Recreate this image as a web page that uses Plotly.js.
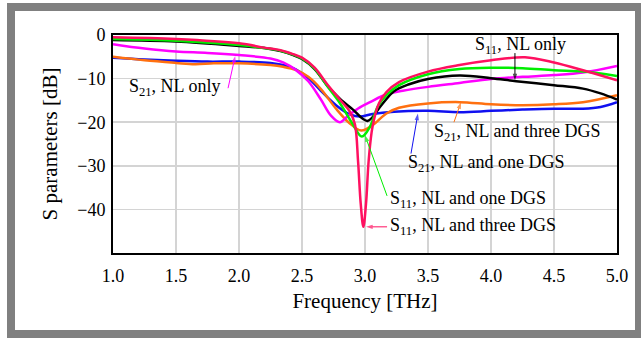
<!DOCTYPE html>
<html>
<head>
<meta charset="utf-8">
<script src="https://cdn.plot.ly/plotly-3.0.1.min.js"></script>
<style>
  html, body { margin: 0; padding: 0; background: #ffffff; width: 641px; height: 338px; overflow: hidden; }
  #frame { position: absolute; left: 7px; top: 3px; width: 636px; height: 335px; box-sizing: border-box; border: 8px solid #808080; background: #ffffff; }
  #chart { position: absolute; left: 0; top: 0; width: 641px; height: 338px; }
</style>
</head>
<body>
<div id="frame"></div>
<div id="chart"></div>
<script>
// S11, NL only (black)
const s11NlX = [1.0, 1.5, 2.0, 2.2, 2.33, 2.43, 2.5, 2.6, 2.7, 2.8, 2.9, 3.02, 3.13, 3.23, 3.35, 3.5, 3.75, 4.0, 4.2, 4.5, 4.73, 4.87, 5.0];
const s11NlY = [-1.15, -1.5, -2.5, -3.0, -3.7, -4.6, -5.5, -7.8, -11.6, -14.6, -17.0, -19.7, -16.1, -12.9, -11.3, -10.1, -9.3, -9.9, -10.6, -11.5, -12.3, -13.4, -14.8];
// S21, NL only (magenta)
const s21NlX = [1.0, 1.25, 1.5, 1.75, 2.0, 2.25, 2.35, 2.45, 2.55, 2.65, 2.73, 2.8, 2.87, 2.96, 3.04, 3.17, 3.3, 3.5, 3.75, 4.0, 4.25, 4.5, 4.73, 5.0];
const s21NlY = [-2.1, -3.1, -3.8, -4.1, -4.6, -5.4, -6.3, -8.0, -10.6, -14.8, -18.5, -20.0, -18.4, -16.6, -15.4, -13.6, -12.8, -11.9, -11.0, -10.1, -9.6, -9.2, -8.6, -7.1];
// S11, NL and one DGS (green)
const s11OneX = [1.0, 1.5, 2.0, 2.2, 2.33, 2.43, 2.5, 2.6, 2.7, 2.8, 2.9, 2.975, 3.04, 3.1, 3.17, 3.27, 3.5, 3.75, 4.0, 4.25, 4.5, 4.73, 5.0];
const s11OneY = [-0.9, -1.3, -2.3, -3.0, -3.6, -4.5, -5.4, -7.7, -11.7, -15.6, -20.3, -23.3, -21.0, -16.5, -13.8, -11.5, -9.0, -7.8, -7.5, -7.6, -8.1, -8.4, -9.4];
// S21, NL and one DGS (blue)
const s21OneX = [1.0, 1.25, 1.5, 1.75, 2.0, 2.25, 2.35, 2.45, 2.55, 2.65, 2.77, 2.88, 2.96, 3.06, 3.23, 3.5, 3.75, 4.0, 4.25, 4.5, 4.73, 4.87, 5.0];
const s21OneY = [-5.2, -5.6, -5.9, -6.1, -6.1, -6.4, -6.9, -7.9, -9.9, -12.8, -16.1, -18.2, -18.7, -18.1, -17.6, -17.4, -17.7, -17.4, -17.1, -16.9, -16.9, -16.5, -15.4];
// S11, NL and three DGS (red)
const s11ThreeX = [1.0, 1.5, 2.0, 2.2, 2.33, 2.43, 2.5, 2.6, 2.7, 2.8, 2.88, 2.92, 2.945, 2.966, 2.987, 3.008, 3.03, 3.06, 3.11, 3.17, 3.27, 3.5, 3.75, 4.0, 4.27, 4.5, 4.73, 5.0];
const s11ThreeY = [-0.5, -0.9, -1.9, -2.9, -3.5, -4.4, -5.2, -7.5, -11.3, -14.8, -17.6, -20.5, -29.0, -38.7, -44.0, -38.7, -28.5, -21.0, -15.7, -13.1, -10.8, -8.4, -6.9, -5.8, -5.1, -6.3, -8.1, -10.4];
// S21, NL and three DGS (orange)
const s21ThreeX = [1.0, 1.25, 1.5, 1.65, 1.8, 2.0, 2.25, 2.35, 2.45, 2.55, 2.65, 2.77, 2.88, 2.97, 3.06, 3.17, 3.27, 3.5, 3.75, 4.0, 4.25, 4.5, 4.73, 5.0];
const s21ThreeY = [-5.0, -5.8, -6.4, -6.7, -6.5, -6.5, -6.9, -7.3, -8.0, -9.6, -12.4, -16.9, -20.3, -21.9, -20.7, -18.0, -16.7, -15.7, -15.4, -15.9, -16.1, -15.9, -15.4, -13.8];

const xTicks = [1.0, 1.5, 2.0, 2.5, 3.0, 3.5, 4.0, 4.5, 5.0];
const xTickText = ["1.0", "1.5", "2.0", "2.5", "3.0", "3.5", "4.0", "4.5", "5.0"];
const yTicks = [0, -10, -20, -30, -40];

// curve labels and their pointer arrows
const labelText = ["S<sub>21</sub>, NL only", "S<sub>11</sub>, NL only", "S<sub>21</sub>, NL and three DGS", "S<sub>21</sub>, NL and one DGS", "S<sub>11</sub>, NL and one DGS", "S<sub>11</sub>, NL and three DGS"];
const labelX = [1.111, 3.857, 3.532, 3.325, 3.183, 3.183];
const labelY = [-12.0, -2.3, -22.35, -29.5, -37.8, -44.0];
const tailX = [1.913, 4.19, 3.706, 3.365, 3.175, 3.175];
const tailY = [-12.2, -4.15, -20.0, -27.2, -36.9, -44.0];
const headX = [1.97, 4.19, 3.762, 3.42, 3.0, 3.008];
const headY = [-4.8, -10.4, -15.4, -18.0, -23.0, -44.0];
const arrowColors = ["#ff00ff", "#000000", "#ff7010", "#1010f0", "#00ee00", "#ff1060"];

const serif = "Liberation Serif, Times New Roman, serif";

function line(x, y, color, name) {
  return { x: x, y: y, type: "scatter", mode: "lines", name: name,
    line: { color: color, width: 2.5, shape: "spline", smoothing: 1.0 }, hoverinfo: "skip" };
}

const traces = [
  line(s21OneX, s21OneY, "#1010f0", "S21, NL and one DGS"),
  line(s21ThreeX, s21ThreeY, "#ff7010", "S21, NL and three DGS"),
  line(s21NlX, s21NlY, "#ff00ff", "S21, NL only"),
  line(s11NlX, s11NlY, "#000000", "S11, NL only"),
  line(s11OneX, s11OneY, "#00ee00", "S11, NL and one DGS"),
  line(s11ThreeX, s11ThreeY, "#ff1060", "S11, NL and three DGS")
];

for (let i = 0; i < labelText.length; i++) {
  traces.push({
    x: [tailX[i], headX[i]], y: [tailY[i], headY[i]], type: "scatter", mode: "lines+markers",
    line: { color: arrowColors[i], width: 1 },
    marker: { symbol: "arrow", size: [0, 7], angleref: "previous", color: arrowColors[i], line: { width: 0 } },
    hoverinfo: "skip", showlegend: false
  });
}

const annotations = [];
for (let i = 0; i < labelText.length; i++) {
  annotations.push({ x: labelX[i], y: labelY[i], xref: "x", yref: "y", text: labelText[i],
    showarrow: false, xanchor: "left", yanchor: "middle",
    font: { family: serif, size: 18, color: "#000000" } });
}

const layout = {
  width: 641, height: 338,
  margin: { l: 113, r: 24, t: 35, b: 85 },
  paper_bgcolor: "rgba(0,0,0,0)",
  plot_bgcolor: "#ffffff",
  showlegend: false,
  xaxis: {
    range: [1.0, 5.0], tickvals: xTicks, ticktext: xTickText,
    showgrid: true, gridcolor: "#d4d4d4", gridwidth: 1.5,
    showline: true, linecolor: "#000000", linewidth: 2, mirror: true,
    ticks: "", ticklabelstandoff: 5, zeroline: false,
    tickfont: { family: serif, size: 18, color: "#000000" },
    title: { text: "Frequency [THz]", font: { family: serif, size: 21, color: "#000000" }, standoff: 9 }
  },
  yaxis: {
    range: [-50, 0], tickvals: yTicks,
    showgrid: true, gridcolor: "#d4d4d4", gridwidth: 1.5,
    showline: true, linecolor: "#000000", linewidth: 2, mirror: true,
    ticks: "", ticklabelstandoff: 2, zeroline: false,
    tickfont: { family: serif, size: 18, color: "#000000" },
    title: { text: "S parameters [dB]", font: { family: serif, size: 21, color: "#000000" }, standoff: 14 }
  },
  annotations: annotations
};

Plotly.newPlot("chart", traces, layout, { displayModeBar: false, staticPlot: true });
</script>
</body>
</html>
